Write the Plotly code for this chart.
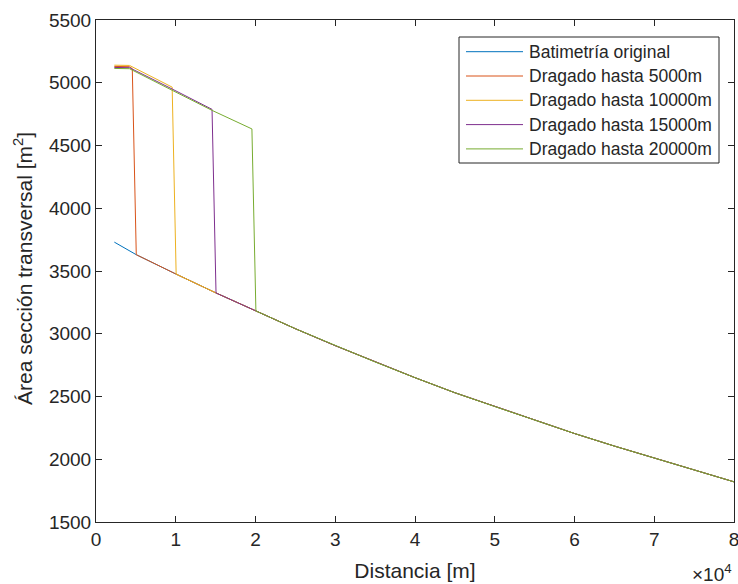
import plotly.graph_objects as go

# ---- data ----
dist_orig = [2300, 5050, 10050, 15050, 20050, 25000, 30000, 35000, 40000, 45000,
             50000, 55000, 60000, 65000, 70000, 75000, 80000]
area_orig = [3730, 3630, 3475, 3325, 3182, 3040, 2905, 2775, 2650, 2530,
             2420, 2310, 2205, 2105, 2010, 1915, 1820]

# dredged reach (upper part) of each scenario
dist_d5000 = [2300, 4200, 4550]
area_d5000 = [5130, 5128, 5112]
dist_d10000 = [2300, 4200, 9550]
area_d10000 = [5140, 5138, 4965]
dist_d15000 = [2300, 4200, 9550, 14550]
area_d15000 = [5122, 5120, 4950, 4788]
dist_d20000 = [2300, 4200, 9550, 14550, 19550]
area_d20000 = [5114, 5112, 4940, 4780, 4632]

# first original point reached after each dredged reach
join_d5000 = 5050
join_d10000 = 10050
join_d15000 = 15050
join_d20000 = 20050

names = ["Batimetría original", "Dragado hasta 5000m", "Dragado hasta 10000m",
         "Dragado hasta 15000m", "Dragado hasta 20000m"]
colors = ["#0072BD", "#D95319", "#EDB120", "#7E2F8E", "#77AC30"]

x_ticks = [0, 10000, 20000, 30000, 40000, 50000, 60000, 70000, 80000]
x_ticktext = ["0", "1", "2", "3", "4", "5", "6", "7", "8"]
y_ticks = [1500, 2000, 2500, 3000, 3500, 4000, 4500, 5000, 5500]


def dredged(xs, ys, join):
    tail_x = [d for d in dist_orig if d >= join]
    tail_y = [a for d, a in zip(dist_orig, area_orig) if d >= join]
    return xs + tail_x, ys + tail_y


series = [
    (dist_orig, area_orig),
    dredged(dist_d5000, area_d5000, join_d5000),
    dredged(dist_d10000, area_d10000, join_d10000),
    dredged(dist_d15000, area_d15000, join_d15000),
    dredged(dist_d20000, area_d20000, join_d20000),
]

FONT = "Liberation Sans, Arial, sans-serif"
TXT = "#262626"
W, H = 738, 584
ML, MR, MT, MB = 96, 4, 20, 62
PW, PH = W - ML - MR, H - MT - MB


def px(xp):
    return (xp - ML) / PW


def py(yp):
    return (H - MB - yp) / PH


fig = go.Figure()
for (xs, ys), n, c in zip(series, names, colors):
    fig.add_trace(go.Scatter(x=xs, y=ys, mode="lines", name=n, showlegend=False,
                             line=dict(color=c, width=1)))

axis_common = dict(showgrid=False, zeroline=False, showline=True, linecolor=TXT,
                   linewidth=1, mirror="ticks", ticks="inside", ticklen=6,
                   tickcolor=TXT, tickwidth=1, ticklabeloverflow="allow",
                   automargin=False,
                   tickfont=dict(family=FONT, size=19, color=TXT))

fig.update_layout(
    width=W, height=H,
    margin=dict(l=ML, r=MR, t=MT, b=MB),
    paper_bgcolor="white", plot_bgcolor="white",
    font=dict(family=FONT, color=TXT),
    xaxis=dict(range=[0, 80000], tickvals=x_ticks, ticktext=x_ticktext,
               title=dict(text="Distancia [m]", font=dict(family=FONT, size=21, color=TXT),
                          standoff=14),
               **axis_common),
    yaxis=dict(range=[1500, 5500], tickvals=y_ticks, **axis_common),
    showlegend=False,
)

# y-axis title
fig.add_annotation(xref="paper", yref="paper", x=px(23), y=py(269),
                   xanchor="center", yanchor="middle", showarrow=False, textangle=-90,
                   text="Área sección transversal [m<sup>2</sup>]",
                   font=dict(family=FONT, size=21, color=TXT))

# legend box drawn in the MATLAB style
leg_left, leg_right, leg_top, leg_bottom = 459, 719, 37, 163
fig.add_shape(type="rect", xref="paper", yref="paper",
              x0=px(leg_left), x1=px(leg_right), y0=py(leg_bottom), y1=py(leg_top),
              line=dict(color=TXT, width=1), fillcolor="white", layer="above")
row0, row_step = 51.7, 24.3
for i, (n, c) in enumerate(zip(names, colors)):
    yr = row0 + i * row_step
    fig.add_shape(type="line", xref="paper", yref="paper",
                  x0=px(466), x1=px(523), y0=py(yr), y1=py(yr),
                  line=dict(color=c, width=1), layer="above")
    fig.add_annotation(xref="paper", yref="paper", x=px(527), y=py(yr),
                       xanchor="left", yanchor="middle", showarrow=False,
                       text=n, font=dict(family=FONT, size=17.5, color=TXT))

fig.add_annotation(xref="paper", yref="paper", x=1.0, y=-0.1295,
                   xanchor="right", yanchor="bottom", showarrow=False,
                   text="×10<sup>4</sup>", font=dict(family=FONT, size=19, color=TXT))

fig.write_html("out.html")
